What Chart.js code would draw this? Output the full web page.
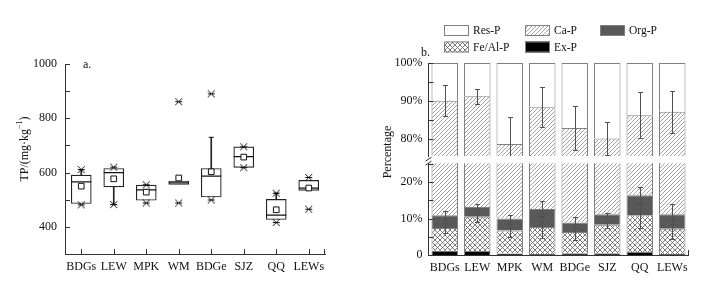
<!DOCTYPE html>
<html>
<head>
<meta charset="utf-8">
<script src="https://cdn.jsdelivr.net/npm/chart.js@4/dist/chart.umd.min.js"></script>
<style>
    body { margin: 0; background: #fff; width: 706px; height: 283px; position: relative; overflow: hidden; font-family: "Liberation Serif", serif; color: #111; }
    canvas { position: absolute; }
    .rotulo { position: absolute; font-size: 12px; line-height: 14px; white-space: nowrap; }
</style>
</head>
<body>
<canvas id="graficoTP" width="370" height="283" style="left:0;top:0"></canvas>
<canvas id="graficoFracSup" width="336" height="283" style="left:370px;top:0"></canvas>
<canvas id="graficoFracInf" width="336" height="133" style="left:370px;top:150px"></canvas>
<div class="rotulo" style="left:83px;top:57px">a.</div>
<div class="rotulo" style="left:421px;top:45px">b.</div>
<script>
const categorias = ['BDGs', 'LEW', 'MPK', 'WM', 'BDGe', 'SJZ', 'QQ', 'LEWs'];

// Painel a: TP (mg/kg), caixas
const tpQ1 = [486, 547, 498, 556, 510, 619, 427, 534];
const tpQ3 = [591, 615, 554, 569, 615, 695, 501, 571];
const tpMediana = [566, 600, 536, 562, 587, 659, 443, 543];
const tpMedia = [550, 577, 528, 580, 603, 657, 463, 543];
const tpMax = [611, 620, 555, 861, 890, 695, 524, 582];
const tpMin = [481, 482, 488, 488, 499, 618, 416, 465];
const tpBigodeSup = [611, null, null, null, 730, null, 524, null];
const tpBigodeInf = [null, 482, null, null, null, null, null, null];
const tpTicks = [400, 600, 800, 1000];

// Painel b: fracoes de P (%)
const exP = [1.2, 1.1, 0.4, 0.3, 0.45, 0.45, 0.8, 0.3];
const feAlP = [6.2, 9.4, 6.3, 7.4, 5.85, 7.85, 10.1, 6.9];
const orgP = [3.5, 2.7, 3.3, 4.9, 2.6, 2.9, 5.5, 4.0];
const caP = [79.1, 78.0, 68.6, 75.7, 73.9, 68.8, 69.8, 75.9];
const resP = [10.0, 8.8, 21.4, 11.7, 17.2, 20.0, 13.8, 12.9];
const erroFeAlP = [1.4, 1.4, 1.7, 3.0, 2.3, 1.0, 3.4, 2.7];
const erroOrgP = [1.3, 0.9, 0.9, 2.2, 1.6, 0.4, 2.3, 2.7];
const erroCaP = [4.1, 2.0, 7.1, 5.3, 5.9, 4.3, 6.0, 5.6];
const ticksSup = [80, 90, 100];
const ticksInf = [0, 10, 20];

Chart.defaults.font.family = '"Liberation Serif", "Times New Roman", serif';
Chart.defaults.font.size = 12;
Chart.defaults.color = '#111';

function criarPadrao(tipo) {
    const tam = tipo === 'xadrez' ? 5 : 4;
    const c = document.createElement('canvas');
    c.width = tam; c.height = tam;
    const ctx = c.getContext('2d');
    ctx.fillStyle = '#fff';
    ctx.fillRect(0, 0, tam, tam);
    ctx.strokeStyle = tipo === 'xadrez' ? '#5a5a5a' : '#8a8a8a';
    ctx.lineWidth = 0.8;
    ctx.beginPath();
    ctx.moveTo(-1, tam + 1); ctx.lineTo(tam + 1, -1);
    if (tipo === 'xadrez') {
        ctx.moveTo(-1, -1); ctx.lineTo(tam + 1, tam + 1);
    }
    ctx.stroke();
    return document.createElement('canvas').getContext('2d').createPattern(c, 'repeat');
}

function criarMarcaX() {
    const c = document.createElement('canvas');
    c.width = 9; c.height = 9;
    const ctx = c.getContext('2d');
    ctx.strokeStyle = '#111';
    ctx.lineWidth = 1;
    ctx.beginPath();
    ctx.moveTo(1, 1); ctx.lineTo(8, 8);
    ctx.moveTo(8, 1); ctx.lineTo(1, 8);
    ctx.moveTo(1, 4.5); ctx.lineTo(8, 4.5);
    ctx.stroke();
    return c;
}

const padraoCa = criarPadrao('diagonal');
const padraoFeAl = criarPadrao('xadrez');

// Titulo do eixo y desenhado na vertical (com expoente opcional)
const tituloVertical = {
    id: 'tituloVertical',
    afterDraw(chart, args, opts) {
        if (!opts.texto) return;
        const ctx = chart.ctx;
        const partes = [[opts.texto, 12, 0], [opts.expoente || '', 8, -5], [opts.fim || '', 12, 0]];
        const largura = partes.reduce((s, p) => {
            ctx.font = p[1] + 'px "Liberation Serif", serif';
            return s + ctx.measureText(p[0]).width;
        }, 0);
        ctx.save();
        ctx.translate(opts.x, opts.y);
        ctx.rotate(-Math.PI / 2);
        ctx.fillStyle = '#111';
        ctx.textBaseline = 'middle';
        let pos = -largura / 2;
        partes.forEach(p => {
            ctx.font = p[1] + 'px "Liberation Serif", serif';
            ctx.fillText(p[0], pos, p[2]);
            pos += ctx.measureText(p[0]).width;
        });
        ctx.restore();
    }
};

// Ticks curtos para dentro da area do grafico
const ticksInternos = {
    id: 'ticksInternos',
    afterDraw(chart, args, opts) {
        const ctx = chart.ctx;
        const { left, right, bottom } = chart.chartArea;
        const y = chart.scales.y;
        ctx.save();
        ctx.strokeStyle = '#333';
        ctx.lineWidth = 1;
        ctx.beginPath();
        for (let v = Math.ceil(y.min / opts.passoY) * opts.passoY; v <= y.max + 1e-9; v += opts.passoY) {
            const py = Math.round(y.getPixelForValue(v)) + 0.5;
            ctx.moveTo(left, py); ctx.lineTo(left + 5, py);
        }
        if (opts.ticksX) {
            const x = chart.scales.x;
            categorias.forEach((c, i) => {
                const px = Math.round(x.getPixelForValue(i)) + 0.5;
                ctx.moveTo(px, bottom); ctx.lineTo(px, bottom - 5);
            });
        }
        if (opts.fimX) {
            ctx.moveTo(Math.round(right) - 0.5, bottom); ctx.lineTo(Math.round(right) - 0.5, bottom - 5);
        }
        if (opts.quebra) {
            const t = chart.chartArea.top;
            ctx.moveTo(left - 3, t + 2); ctx.lineTo(left + 3, t - 2);
            ctx.moveTo(left - 3, t - 2); ctx.lineTo(left + 3, t - 6);
        }
        ctx.stroke();
        ctx.restore();
    }
};

// Barras de erro no topo de cada fracao
const barrasErro = {
    id: 'barrasErro',
    afterDatasetsDraw(chart) {
        const ctx = chart.ctx;
        const area = chart.chartArea;
        const x = chart.scales.x, y = chart.scales.y;
        const series = [
            { topo: categorias.map((c, i) => exP[i] + feAlP[i]), erro: erroFeAlP },
            { topo: categorias.map((c, i) => exP[i] + feAlP[i] + orgP[i]), erro: erroOrgP },
            { topo: categorias.map((c, i) => exP[i] + feAlP[i] + orgP[i] + caP[i]), erro: erroCaP }
        ];
        ctx.save();
        ctx.beginPath();
        ctx.rect(area.left, area.top, area.right - area.left, area.bottom - area.top);
        ctx.clip();
        ctx.strokeStyle = '#505050';
        ctx.lineWidth = 1;
        ctx.beginPath();
        series.forEach(s => {
            categorias.forEach((c, i) => {
                const px = Math.round(x.getPixelForValue(i)) + 0.5;
                const yt = Math.round(y.getPixelForValue(s.topo[i] + s.erro[i])) + 0.5;
                const yb = Math.round(y.getPixelForValue(s.topo[i] - s.erro[i])) + 0.5;
                ctx.moveTo(px, yt); ctx.lineTo(px, yb);
                ctx.moveTo(px - 2.5, yt); ctx.lineTo(px + 2.5, yt);
                ctx.moveTo(px - 2.5, yb); ctx.lineTo(px + 2.5, yb);
            });
        });
        ctx.stroke();
        ctx.restore();
    }
};

// Legenda em grade (3 colunas)
const legendaGrade = {
    id: 'legendaGrade',
    afterDraw(chart) {
        const ctx = chart.ctx;
        const ds = chart.data.datasets;
        const posicoes = {
            'Res-P': [74, 25], 'Ca-P': [155, 25], 'Org-P': [230, 25],
            'Fe/Al-P': [74, 41.5], 'Ex-P': [155, 41.5]
        };
        ctx.save();
        ctx.font = '11.5px "Liberation Serif", serif';
        ctx.textBaseline = 'middle';
        ctx.fillStyle = '#111';
        ds.forEach(d => {
            const [px, py] = posicoes[d.label];
            ctx.fillStyle = d.backgroundColor;
            ctx.fillRect(px, py, 25, 11);
            ctx.strokeStyle = '#808080';
            ctx.lineWidth = 1;
            ctx.strokeRect(px + 0.5, py + 0.5, 24, 10);
            ctx.fillStyle = '#111';
            ctx.fillText(d.label, px + 29, py + 6);
        });
        ctx.restore();
    }
};

function inicializarGraficoTP() {
    const marcaX = criarMarcaX();
    const pontos = (dados, estilo, raio, extra) => Object.assign({
        type: 'line', data: dados, showLine: false, pointStyle: estilo, pointRadius: raio,
        borderColor: '#111', backgroundColor: '#fff', pointBorderWidth: 1
    }, extra || {});
    const bigode = (dados, base) => ({
        type: 'bar', grouped: false, barThickness: 1,
        data: dados.map((v, i) => v === null ? null : [base[i], v]),
        backgroundColor: '#222', borderWidth: 0
    });

    new Chart(document.getElementById('graficoTP'), {
        type: 'bar',
        data: {
            labels: categorias,
            datasets: [
                pontos(tpMax, marcaX, 4),
                pontos(tpMin, marcaX, 4),
                pontos(tpMedia, 'rect', 4),
                pontos(tpMediana, 'line', 10, { pointBorderWidth: 1.3 }),
                pontos(tpBigodeSup, 'line', 2.5),
                pontos(tpBigodeInf, 'line', 2.5),
                bigode(tpBigodeSup, tpQ3),
                bigode(tpBigodeInf, tpQ1),
                {
                    type: 'bar', grouped: false, barThickness: 20,
                    data: tpQ1.map((v, i) => [v, tpQ3[i]]),
                    backgroundColor: '#fff', borderColor: '#222', borderWidth: 1.2, borderSkipped: false
                }
            ]
        },
        options: {
            responsive: false,
            animation: false,
            layout: { padding: { top: 64, right: 45, left: 0, bottom: 0 } },
            plugins: {
                legend: { display: false },
                tooltip: { enabled: false },
                ticksInternos: { passoY: 100, ticksX: true, fimX: true },
                tituloVertical: { texto: 'TP/(mg·kg', expoente: '−1', fim: ')', x: 25, y: 149 }
            },
            scales: {
                x: {
                    offset: true,
                    grid: { display: false, drawTicks: false },
                    border: { color: '#333' },
                    ticks: { padding: 6, maxRotation: 0, minRotation: 0, autoSkip: false },
                    afterFit: s => { s.height = 29; }
                },
                y: {
                    min: 300, max: 1000,
                    grid: { display: false, drawTicks: false },
                    border: { color: '#333' },
                    ticks: { stepSize: 100, padding: 8, callback: v => tpTicks.includes(v) ? v : '' },
                    afterFit: s => { s.width = 65; }
                }
            }
        },
        plugins: [ticksInternos, tituloVertical]
    });
}

function montarDatasetsFracoes() {
    return [
        { label: 'Ex-P', data: exP, backgroundColor: '#000' },
        { label: 'Fe/Al-P', data: feAlP, backgroundColor: padraoFeAl },
        { label: 'Org-P', data: orgP, backgroundColor: '#595959' },
        { label: 'Ca-P', data: caP, backgroundColor: padraoCa },
        { label: 'Res-P', data: resP, backgroundColor: '#fff' }
    ].map(d => Object.assign(d, { borderColor: '#808080', borderWidth: 1 }));
}

function criarGraficoFracoes(idCanvas, yMin, yMax, rotulos, padding, alturaX, mostrarX, extras) {
    new Chart(document.getElementById(idCanvas), {
        type: 'bar',
        data: { labels: categorias, datasets: montarDatasetsFracoes() },
        options: {
            responsive: false,
            animation: false,
            barPercentage: 0.815,
            categoryPercentage: 1,
            layout: { padding: padding },
            plugins: {
                legend: { display: false },
                tooltip: { enabled: false },
                ticksInternos: Object.assign({ passoY: 5 }, extras),
                tituloVertical: extras.titulo || {}
            },
            scales: {
                x: {
                    stacked: true,
                    display: mostrarX,
                    offset: true,
                    grid: { display: false, drawTicks: false },
                    border: { color: '#333' },
                    ticks: { padding: 6, maxRotation: 0, minRotation: 0, autoSkip: false },
                    afterFit: s => { s.height = alturaX; }
                },
                y: {
                    stacked: true,
                    min: yMin, max: yMax,
                    grid: { display: false, drawTicks: false },
                    border: { color: '#333' },
                    ticks: {
                        stepSize: 5, padding: 6,
                        callback: v => rotulos.includes(v) ? (v === 0 ? '0' : v + '%') : ''
                    },
                    afterFit: s => { s.width = 58.5; }
                }
            }
        },
        plugins: extras.legenda ? [barrasErro, ticksInternos, legendaGrade, tituloVertical] : [barrasErro, ticksInternos]
    });
}

inicializarGraficoTP();
criarGraficoFracoes('graficoFracSup', 75.4, 100, ticksSup, { top: 63, right: 17.5, bottom: 127, left: 0 }, 0, false,
    { legenda: true, titulo: { texto: 'Percentage', x: 18, y: 152 } });
criarGraficoFracoes('graficoFracInf', 0, 25.2, ticksInf, { top: 11, right: 17.5, bottom: 0, left: 0 }, 28, true, { fimX: true, quebra: true });
</script>
</body>
</html>
